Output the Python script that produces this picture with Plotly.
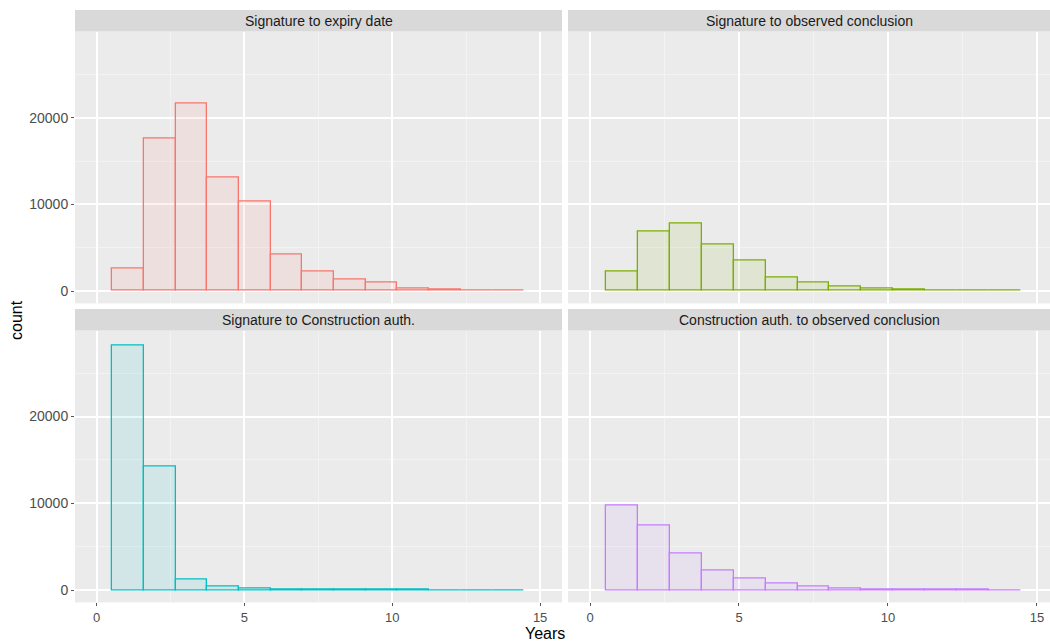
import numpy as np
import plotly.graph_objects as go

# Histogram counts per bin (13 equal-width bins between the min and max duration)
bin_lo, bin_hi, n_bins = 0.54, 14.46, 13

panels = [
    "Signature to expiry date",
    "Signature to observed conclusion",
    "Signature to Construction auth.",
    "Construction auth. to observed conclusion",
]
colors = ["#F8766D", "#7CAE00", "#00BFC4", "#C77CFF"]

counts_expiry = [2600, 17600, 21600, 13100, 10350, 4250, 2200, 1350, 950, 320, 150, 80, 40]
counts_sig_observed = [2300, 6850, 7800, 5400, 3550, 1600, 1000, 550, 300, 130, 60, 30, 15]
counts_sig_constr = [28250, 14200, 1250, 380, 130, 60, 30, 20, 10, 8, 5, 3, 2]
counts_constr_observed = [9800, 7400, 4250, 2300, 1350, 750, 420, 160, 80, 40, 20, 10, 5]
all_counts = [counts_expiry, counts_sig_observed, counts_sig_constr, counts_constr_observed]

x_ticks = [0, 5, 10, 15]
y_ticks = [0, 10000, 20000]
y_tick_text = ["0", "10000", "20000"]

edges = np.linspace(bin_lo, bin_hi, n_bins + 1)
centers = (edges[:-1] + edges[1:]) / 2
width = edges[1] - edges[0]

W, H = 1050, 644
# panel pixel boxes (left, right, top, bottom)
boxes = [
    (75, 562, 31.6, 303.4),
    (568, 1050, 31.6, 303.4),
    (75, 562, 330.5, 602.4),
    (568, 1050, 330.5, 602.4),
]
x_ranges = [(-0.727, 15.74), (-0.74, 15.44), (-0.727, 15.74), (-0.74, 15.44)]
y_range = (-1425, 29925)
FONT = "Liberation Sans, Arial, Helvetica"


def hex_rgba(h, a):
    h = h.lstrip("#")
    r, g, b = int(h[0:2], 16), int(h[2:4], 16), int(h[4:6], 16)
    return f"rgba({r},{g},{b},{a})"


fig = go.Figure()
layout = {}
shapes = []
annotations = []

for i, (name, col, cnt) in enumerate(zip(panels, colors, all_counts)):
    idx = "" if i == 0 else str(i + 1)
    l, r, t, b = boxes[i]
    xdom = [l / W, r / W]
    ydom = [1 - b / H, 1 - t / H]
    bottom_row = i >= 2
    left_col = i % 2 == 0

    fig.add_trace(go.Bar(
        x=centers, y=cnt, width=width,
        marker=dict(color=hex_rgba(col, 0.1), line=dict(color=col, width=1.3)),
        xaxis="x" + idx, yaxis="y" + idx, showlegend=False,
        hoverinfo="x+y",
    ))

    layout["xaxis" + idx] = dict(
        domain=xdom, range=list(x_ranges[i]), anchor="y" + idx,
        tickvals=x_ticks, showticklabels=bottom_row,
        ticks="outside" if bottom_row else "", ticklen=3, tickcolor="#555555", tickwidth=1,
        tickfont=dict(family=FONT, size=13, color="#4D4D4D"),
        showgrid=True, gridcolor="white", gridwidth=2,
        minor=dict(tickvals=[2.5, 7.5, 12.5], showgrid=True, gridcolor="#F3F3F3", gridwidth=1, ticks=""),
        zeroline=False, showline=False, fixedrange=True,
    )
    layout["yaxis" + idx] = dict(
        domain=ydom, range=list(y_range), anchor="x" + idx,
        tickvals=y_ticks, ticktext=y_tick_text, showticklabels=left_col,
        ticks="outside" if left_col else "", ticklen=3, tickcolor="#555555", tickwidth=1,
        tickfont=dict(family=FONT, size=14, color="#4D4D4D"),
        showgrid=True, gridcolor="white", gridwidth=2,
        minor=dict(tickvals=[5000, 15000, 25000], showgrid=True, gridcolor="#F3F3F3", gridwidth=1, ticks=""),
        zeroline=False, showline=False, fixedrange=True,
    )

    # facet strip above each panel
    strip_top = t - 21.5
    shapes.append(dict(
        type="rect", xref="paper", yref="paper",
        x0=xdom[0], x1=xdom[1], y0=1 - t / H, y1=1 - strip_top / H,
        fillcolor="#D9D9D9", line=dict(width=0), layer="below",
    ))
    annotations.append(dict(
        text=name, xref="paper", yref="paper",
        x=(l + min(r, l + 487)) / 2 / W, y=1 - (t + strip_top) / 2 / H,
        xanchor="center", yanchor="middle", showarrow=False,
        font=dict(family=FONT, size=14, color="#1A1A1A"),
    ))

annotations.append(dict(
    text="Years", xref="paper", yref="paper", x=545 / W, y=1 - 633 / H,
    xanchor="center", yanchor="middle", showarrow=False,
    font=dict(family=FONT, size=16, color="black"),
))
annotations.append(dict(
    text="count", xref="paper", yref="paper", x=16 / W, y=1 - 320 / H,
    xanchor="center", yanchor="middle", showarrow=False, textangle=-90,
    font=dict(family=FONT, size=16, color="black"),
))

fig.update_layout(
    width=W, height=H,
    margin=dict(l=0, r=0, t=0, b=0),
    paper_bgcolor="white", plot_bgcolor="#EBEBEB",
    bargap=0, barmode="overlay",
    shapes=shapes, annotations=annotations,
    **layout,
)

fig.write_html("out.html", config={"displayModeBar": False})
